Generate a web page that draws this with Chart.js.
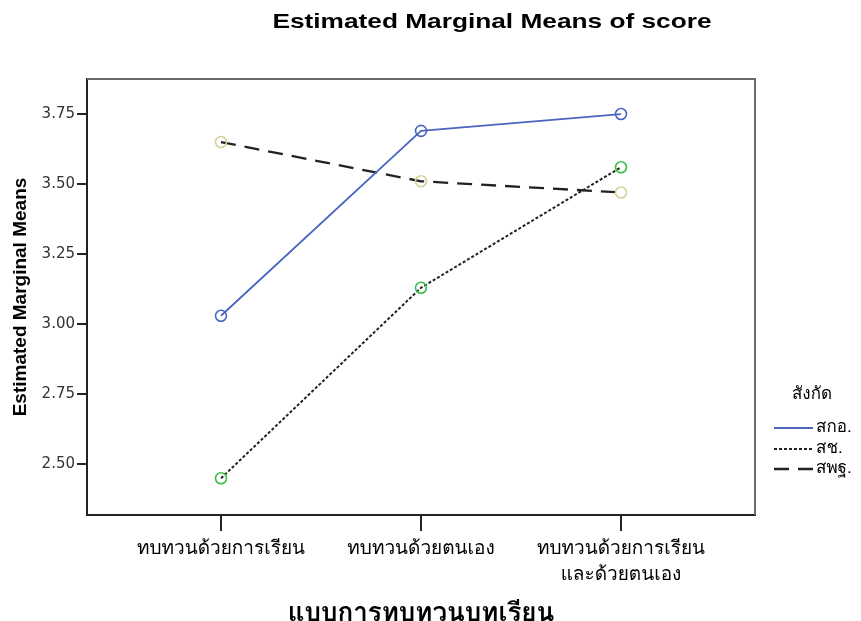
<!DOCTYPE html>
<html>
<head>
<meta charset="utf-8">
<script src="https://cdn.jsdelivr.net/npm/chart.js@4.4.1/dist/chart.umd.min.js"></script>
<style>
html,body{margin:0;padding:0;background:#fff;}
#wrap{width:861px;height:621px;position:relative;}
</style>
</head>
<body>
<div id="wrap"><canvas id="c" width="861" height="621"></canvas></div>
<script>
const categories = ['ทบทวนด้วยการเรียน', 'ทบทวนด้วยตนเอง', ['ทบทวนด้วยการเรียน', 'และด้วยตนเอง']];
const seriesNames = ['สกอ.', 'สช.', 'สพฐ.'];
const skoValues = [3.03, 3.69, 3.75];
const schValues = [2.45, 3.13, 3.56];
const sptValues = [3.65, 3.51, 3.47];
const yTicks = [2.50, 2.75, 3.00, 3.25, 3.50, 3.75];
const chartTitle = 'Estimated Marginal Means of score';
const yTitle = 'Estimated Marginal Means';
const xTitle = 'แบบการทบทวนบทเรียน';
const legendTitle = 'สังกัด';

const thaiFont = "Loma, Garuda, 'Tlwg Typo', Tahoma, 'Noto Sans Thai', 'Noto Sans Thai UI', 'Noto Sans', 'DejaVu Sans', sans-serif";
const toPts = arr => arr.map((v, i) => ({x: i, y: v}));

const styles = [
  {line: '#4a66c0', point: '#4a66c0', dash: [], width: 1.8},
  {line: '#222222', point: '#3cbf4a', dash: [3, 2], width: 2},
  {line: '#222222', point: '#d6d09a', dash: [15, 9], width: 2.3}
];
const values = [skoValues, schValues, sptValues];

const datasets = values.map((vals, i) => ({
  label: seriesNames[i],
  data: toPts(vals),
  borderColor: styles[i].line,
  borderDash: styles[i].dash,
  borderWidth: styles[i].width,
  pointRadius: 5.5,
  pointHoverRadius: 5.5,
  pointBorderWidth: 1.6,
  pointBorderColor: styles[i].point,
  pointBackgroundColor: 'rgba(255,255,255,0)',
  tension: 0,
  fill: false
}));

const decor = {
  id: 'decor',
  afterDraw(chart) {
    const ctx = chart.ctx;
    const a = chart.chartArea;
    ctx.save();
    ctx.strokeStyle = '#6a6a6a';
    ctx.lineWidth = 2;
    ctx.beginPath();
    ctx.moveTo(a.left, a.top);
    ctx.lineTo(a.right, a.top);
    ctx.lineTo(a.right, a.bottom);
    ctx.stroke();
    ctx.save();
    ctx.fillStyle = '#000';
    ctx.font = "bold 21px 'Liberation Sans', Arial, sans-serif";
    ctx.textAlign = 'center';
    ctx.textBaseline = 'middle';
    ctx.translate(492, 22);
    ctx.scale(1.25, 1);
    ctx.fillText(chartTitle, 0, 0);
    ctx.restore();
    ctx.font = '17px ' + thaiFont;
    ctx.textAlign = 'center';
    ctx.textBaseline = 'middle';
    ctx.fillStyle = '#000';
    ctx.fillText(legendTitle, 812, 395);
    ctx.textAlign = 'left';
    const ys = [428, 449, 469];
    chart.data.datasets.forEach((ds, i) => {
      ctx.strokeStyle = ds.borderColor;
      ctx.lineWidth = ds.borderWidth;
      ctx.setLineDash(ds.borderDash);
      ctx.beginPath();
      ctx.moveTo(774, ys[i]);
      ctx.lineTo(813, ys[i]);
      ctx.stroke();
      ctx.setLineDash([]);
      ctx.fillText(ds.label, 816, ys[i]);
    });
    ctx.restore();
  }
};

new Chart(document.getElementById('c'), {
  type: 'line',
  data: {datasets},
  plugins: [decor],
  options: {
    responsive: false,
    animation: false,
    layout: {padding: {top: 79, right: 106, left: 0, bottom: 0}},
    plugins: {legend: {display: false}, tooltip: {enabled: false}, title: {display: false}},
    scales: {
      x: {
        type: 'linear',
        min: -0.67,
        max: 2.67,
        afterBuildTicks: s => { s.ticks = categories.map((c, i) => ({value: i})); },
        afterFit: s => { s.height = 106; },
        ticks: {
          callback: v => categories[v],
          color: '#000',
          font: {size: 19, family: thaiFont, lineHeight: 1.4},
          padding: 5,
          maxRotation: 0,
          autoSkip: false
        },
        grid: {drawOnChartArea: false, drawTicks: true, tickLength: 16, color: '#222', lineWidth: 2},
        border: {display: true, color: '#222', width: 2},
        title: {display: true, text: xTitle, color: '#000', font: {size: 26, weight: 'bold', family: thaiFont}, padding: {top: 0, bottom: -10}}
      },
      y: {
        min: 2.319,
        max: 3.875,
        afterBuildTicks: s => { s.ticks = yTicks.map(v => ({value: v})); },
        afterFit: s => { s.width = 87; },
        ticks: {
          callback: v => Number(v).toFixed(2),
          color: '#333',
          font: {size: 15, family: "'DejaVu Sans', sans-serif"},
          padding: 2
        },
        grid: {drawOnChartArea: false, drawTicks: true, tickLength: 10, color: '#222', lineWidth: 2},
        border: {display: true, color: '#222', width: 2},
        title: {display: true, text: yTitle, color: '#000', font: {size: 19, weight: 'bold', family: "'Liberation Sans Narrow', 'Arial Narrow', 'Liberation Sans', sans-serif"}, padding: {top: 9, bottom: 0}}
      }
    }
  }
});
</script>
</body>
</html>
